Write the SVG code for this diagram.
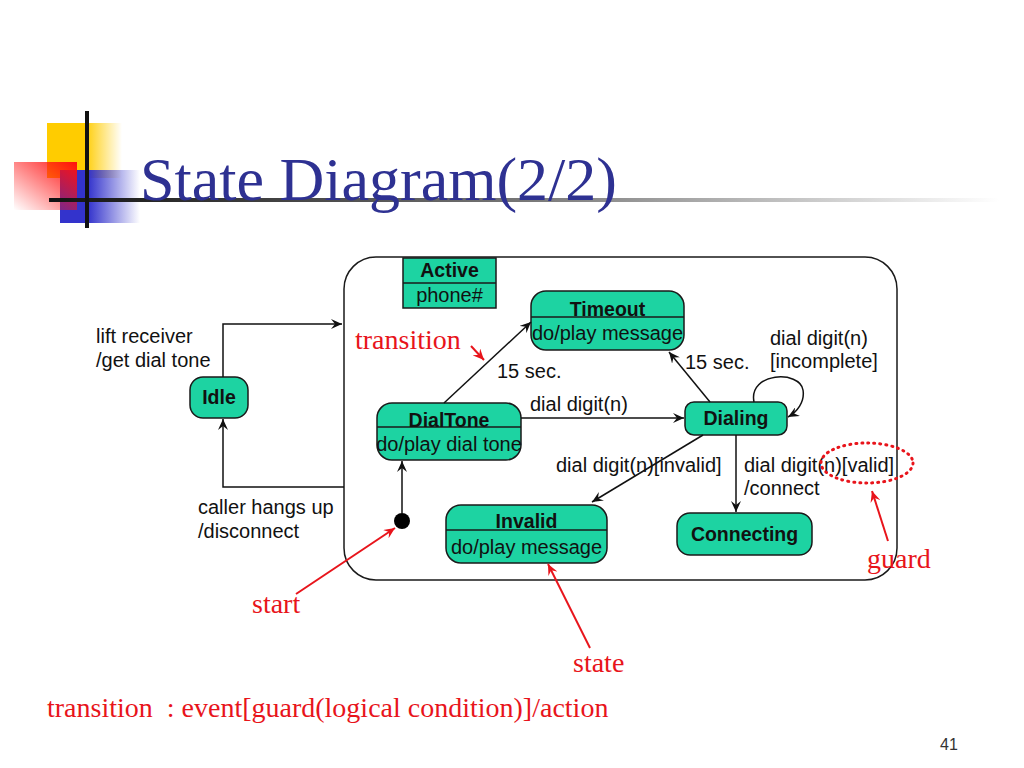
<svg xmlns="http://www.w3.org/2000/svg" width="1024" height="768" viewBox="0 0 1024 768">
<defs>
<style>
.st{fill:#1DD3A2;stroke:#1a1a1a;stroke-width:1.5}
.t{font-family:"Liberation Sans",Arial,sans-serif;font-size:20px;fill:#111}
.b{font-family:"Liberation Sans",Arial,sans-serif;font-size:19.5px;font-weight:bold;fill:#111}
.r{font-family:"Liberation Serif","Times New Roman",serif;font-size:28px;fill:#E8141B}
.ln{fill:none;stroke:#111;stroke-width:1.5}
.rl{fill:none;stroke:#E8141B;stroke-width:2}
</style>
<marker id="ar" markerWidth="12" markerHeight="10" refX="11" refY="5" orient="auto" markerUnits="userSpaceOnUse">
<path d="M0,0 L11,5 L0,10 L4,5 Z" fill="#111"/>
</marker>
<marker id="rar" markerWidth="12" markerHeight="10" refX="11" refY="5" orient="auto" markerUnits="userSpaceOnUse">
<path d="M0,0 L11,5 L0,10 L4,5 Z" fill="#E8141B"/>
</marker>
<linearGradient id="gy" x1="0" y1="0" x2="1" y2="0"><stop offset="0.5" stop-color="#FFCC00"/><stop offset="1" stop-color="#FFCC00" stop-opacity="0"/></linearGradient>
<linearGradient id="gb" x1="0" y1="0" x2="1" y2="0"><stop offset="0.35" stop-color="#3333CC"/><stop offset="1" stop-color="#3333CC" stop-opacity="0"/></linearGradient>
<linearGradient id="gr" x1="1" y1="0" x2="0" y2="1"><stop offset="0" stop-color="#FF1010"/><stop offset="1" stop-color="#FF1010" stop-opacity="0"/></linearGradient>
<linearGradient id="gl" x1="0" y1="0" x2="1" y2="0"><stop offset="0" stop-color="#111"/><stop offset="0.5" stop-color="#777"/><stop offset="1" stop-color="#fff"/></linearGradient>
</defs>
<rect width="1024" height="768" fill="#fff"/>
<g id="decor">
<rect x="47" y="123" width="75" height="55" fill="url(#gy)"/>
<rect x="60" y="170" width="80" height="53" fill="url(#gb)"/>
<rect x="14" y="162" width="63" height="48" fill="url(#gr)"/>
<rect x="49" y="198" width="950" height="4" fill="url(#gl)"/>
<rect x="85" y="111" width="4" height="117" fill="#111"/>
</g>
<text x="140" y="200" font-family="'Liberation Serif','Times New Roman',serif" font-size="62" fill="#2E3192">State Diagram(2/2)</text>
<g id="Active">
<rect x="344" y="257" width="553" height="323" rx="32" fill="none" stroke="#1a1a1a" stroke-width="1.5"/>
<rect x="403" y="258" width="93" height="50" fill="#1DD3A2" stroke="#1a1a1a" stroke-width="1.5"/>
<line x1="403" y1="283" x2="496" y2="283" stroke="#1a1a1a" stroke-width="1.5"/>
<text x="449.5" y="277" class="b" text-anchor="middle">Active</text>
<text x="449.5" y="302" class="t" text-anchor="middle">phone#</text>
</g>
<g id="Timeout">
<rect x="531" y="291" width="153" height="59" rx="15" class="st"/>
<line x1="531" y1="317" x2="684" y2="317" stroke="#1a1a1a" stroke-width="1.5"/>
<text x="607.5" y="316" class="b" text-anchor="middle">Timeout</text>
<text x="607.5" y="340" class="t" text-anchor="middle">do/play message</text>
</g>
<g id="Idle">
<rect x="190" y="377" width="58" height="41" rx="13" class="st"/>
<text x="219" y="404" class="b" text-anchor="middle">Idle</text>
</g>
<g id="DialTone">
<rect x="377" y="403" width="144" height="57" rx="15" class="st"/>
<line x1="377" y1="427" x2="521" y2="427" stroke="#1a1a1a" stroke-width="1.5"/>
<text x="449" y="427" class="b" text-anchor="middle">DialTone</text>
<text x="449" y="451" class="t" text-anchor="middle">do/play dial tone</text>
</g>
<g id="Dialing">
<rect x="685" y="402" width="102" height="33" rx="9" class="st"/>
<text x="736" y="425" class="b" text-anchor="middle">Dialing</text>
</g>
<g id="Invalid">
<rect x="446" y="505" width="161" height="58" rx="15" class="st"/>
<line x1="446" y1="530" x2="607" y2="530" stroke="#1a1a1a" stroke-width="1.5"/>
<text x="526.5" y="528" class="b" text-anchor="middle">Invalid</text>
<text x="526.5" y="554" class="t" text-anchor="middle">do/play message</text>
</g>
<g id="Connecting">
<rect x="677" y="513" width="135" height="42" rx="13" class="st"/>
<text x="744.5" y="541" class="b" text-anchor="middle">Connecting</text>
</g>
<g id="Start">
<circle cx="402" cy="521" r="8" fill="#000"/>
</g>
<g id="connectors">
<path class="ln" d="M223,377 V324 H342" marker-end="url(#ar)"/>
<path class="ln" d="M344,487 H223 V419" marker-end="url(#ar)"/>
<path class="ln" d="M402,513 V461" marker-end="url(#ar)"/>
<path class="ln" d="M444,403 L531,322" marker-end="url(#ar)"/>
<path class="ln" d="M710,402 L669,352" marker-end="url(#ar)"/>
<path class="ln" d="M521,418 H684" marker-end="url(#ar)"/>
<path class="ln" d="M754,402 C748,372 800,370 803,390 C805,402 797,412 788,417" marker-end="url(#ar)"/>
<path class="ln" d="M703,435 L592,502" marker-end="url(#ar)"/>
<path class="ln" d="M736,435 V512" marker-end="url(#ar)"/>
</g>
<g id="labels">
<text x="96" y="343" class="t">lift receiver</text>
<text x="96" y="367" class="t">/get dial tone</text>
<text x="198" y="514" class="t">caller hangs up</text>
<text x="198" y="538" class="t">/disconnect</text>
<text x="497" y="378" class="t">15 sec.</text>
<text x="685" y="369" class="t">15 sec.</text>
<text x="530" y="411" class="t">dial digit(n)</text>
<text x="770" y="345" class="t">dial digit(n)</text>
<text x="770" y="368" class="t">[incomplete]</text>
<text x="556" y="472" class="t">dial digit(n)[invalid]</text>
<text x="744" y="472" class="t">dial digit(n)[valid]</text>
<text x="744" y="495" class="t">/connect</text>
</g>
<g id="annotations">
<ellipse cx="867" cy="463" rx="46" ry="20" fill="none" stroke="#E8141B" stroke-width="3" stroke-dasharray="1 5" stroke-linecap="round"/>
<text x="355" y="349" class="r">transition</text>
<path class="rl" d="M471,346 L484,360" marker-end="url(#rar)"/>
<text x="252" y="613" class="r">start</text>
<path class="rl" d="M296,594 L395,528" marker-end="url(#rar)"/>
<text x="573" y="672" class="r">state</text>
<path class="rl" d="M590,648 L548,564" marker-end="url(#rar)"/>
<text x="867" y="568" class="r">guard</text>
<path class="rl" d="M888,541 L872,491" marker-end="url(#rar)"/>
<text x="47" y="717" class="r" xml:space="preserve">transition  : event[guard(logical condition)]/action</text>
<text x="940" y="750" font-family="'Liberation Sans',Arial,sans-serif" font-size="16" fill="#333">41</text>
</g>
</svg>
